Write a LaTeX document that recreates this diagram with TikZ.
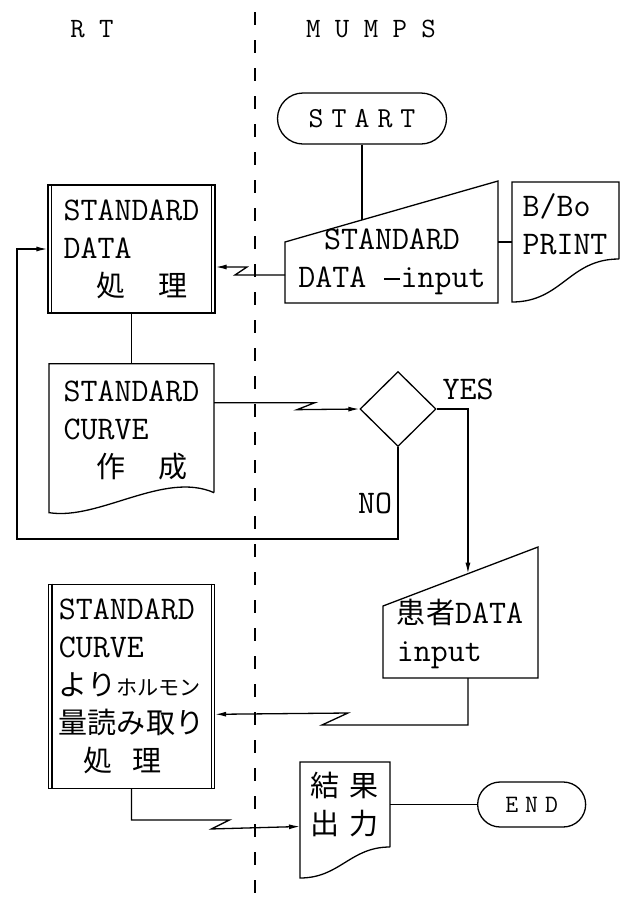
\documentclass[tikz,border=0pt]{standalone}
\usepackage{fontspec}
\newfontfamily\cjk[Scale=0.88]{Noto Sans CJK JP}
\usetikzlibrary{arrows.meta, positioning, calc, shapes.geometric, shapes.misc}

\newcommand\jp[1]{{\cjk #1}}
\newcommand\longdash{\makebox[0.525em]{\rule[0.24em]{0.48em}{1.3pt}}}
% double side lines of a process box
\newcommand\dblsides[1]{%
  \draw ([xshift=4pt]#1.north west) -- ([xshift=4pt]#1.south west);
  \draw ([xshift=-4pt]#1.north east) -- ([xshift=-4pt]#1.south east);}

\begin{document}
\begin{tikzpicture}[x=1pt, y=-1pt, line width=1.3pt, >={Latex[length=11pt,width=5pt]},
  boxfont/.style={font=\fontsize{33}{38}\selectfont\ttfamily},
  head/.style={font=\fontsize{28}{30}\selectfont\ttfamily},
  term/.style={draw, rounded rectangle, inner sep=0pt,
               font=\fontsize{29}{32}\selectfont\ttfamily},
  proc/.style={draw, boxfont, align=left, inner sep=0pt},
  shapebox/.style={inner sep=0pt, outer sep=0pt},
  txt/.style={boxfont, align=left, inner sep=0pt}]
  \useasboundingbox (0,0) rectangle (620,903);

  % Lanes
  \node[head] (rt) at (92,29) {R T};
  \node[head] (mumps) at (371,29) {M U M P S};
  \coordinate (divtop) at (255,12);
  \coordinate (divbot) at (255,903);
  \draw[dash pattern=on 13pt off 15pt] (divtop) -- (divbot);

  % MUMPS side
  \node[term, minimum width=169pt, minimum height=51pt] (start) at (362,118.5) {S\;T\;A\;R\;T};
  \node[shapebox, minimum width=213pt, minimum height=122pt] (stdin) at (391.5,242) {};
  \draw (stdin.south west) -- (stdin.south east) -- (stdin.north east)
    -- ($(stdin.south west)+(0,-61)$) -- cycle;
  \node[txt, align=center] (stdintext) at (392,262) {STANDARD\\DATA \longdash input};
  \node[shapebox, minimum width=107pt, minimum height=120pt, right=14pt of stdin] (prt) {};
  \draw ($(prt.south east)+(0,-43)$) -- (prt.north east) -- (prt.north west) -- (prt.south west)
    .. controls +(50,0) and +(-50,0) .. ($(prt.south east)+(0,-43)$);
  \node[txt] (prttext) at (565,224) {B/Bo\\PRINT};

  \node[draw, diamond, minimum width=76pt, minimum height=75pt, inner sep=0pt] (dec) at (398,409) {};
  \node[boxfont, inner sep=0pt] (yeslbl) at (468,389) {YES};
  \node[boxfont, inner sep=0pt] (nolbl) at (375,503) {NO};

  \node[shapebox, minimum width=155pt, minimum height=131pt] (pat) at (460.5,612.5) {};
  \draw (pat.south west) -- (pat.south east) -- (pat.north east)
    -- ($(pat.south west)+(0,-72)$) -- cycle;
  \node[txt] (pattext) at (460,634) {\jp{患者}DATA\\input};

  % RT side
  \node[proc, minimum width=167pt, minimum height=128pt] (data) at (131.5,249)
    {STANDARD\\DATA\\\quad\jp{処}\quad\jp{理}};
  \dblsides{data}
  \node[shapebox, boxfont, align=left, minimum width=165pt, minimum height=134pt,
        below=50pt of data] (curve) {STANDARD\\CURVE\\\quad\jp{作}\quad\jp{成}};
  \draw ($(curve.south east)+(0,-5)$) -- (curve.north east) -- (curve.north west)
    -- ($(curve.south west)+(0,15)$) .. controls +(50,8) and +(-50,-22) .. ($(curve.south east)+(0,-5)$);
  \node[proc, minimum width=166pt, minimum height=204pt, below=86pt of curve] (horm)
    {STANDARD\\CURVE\\\jp{より}{\fontsize{24}{38}\selectfont\jp{ホルモン}}\\\jp{量読み取り}\\
     \hspace*{0.75em}\jp{処}\hspace{0.6em}\jp{理}};
  \dblsides{horm}

  % Output
  \node[shapebox, boxfont, align=left, minimum width=90pt, minimum height=85pt] (res) at (345,804.5)
    {\jp{結}\hspace{10pt}\jp{果}\\\jp{出}\hspace{10pt}\jp{力}};
  \draw (res.south east) -- (res.north east) -- (res.north west)
    -- ($(res.south west)+(0,31)$) .. controls +(40,0) and +(-40,0) .. (res.south east);
  \node[term, minimum width=108pt, minimum height=45pt, right=87pt of res,
        font=\fontsize{25}{28}\selectfont\ttfamily] (stop) {E\;N\;D};

  % Connectors
  \coordinate (stdintl) at ($(stdin.south west)+(0,-61)$);
  \coordinate (stdintop) at ($(stdintl)!0.362!(stdin.north east)$);
  \coordinate (pattl) at ($(pat.south west)+(0,-72)$);
  \coordinate (pattop) at ($(pattl)!0.548!(pat.north east)$);
  \coordinate (loopcorner) at (17,539);

  \draw (start.south) -- (start.south |- stdintop);
  \draw (stdin.east) -- (prt.west);
  \draw[->] ($(stdin.south west)+(0,-28)$) -- ++(-50,0) -- ++(12,-8) -- ($(data.east)+(0,18)$);
  \draw (data.south) -- (curve.north);
  \draw[->] ($(curve.east)+(0,-28)$) -- ++(101,0) -- ++(-18,7) -- (dec.west);
  \draw[->] (dec.east) -| (pattop);
  \draw[->] (dec.south) |- (loopcorner) |- (data.west);
  \draw[->] (pattop |- pat.south) |- ++(-146,47) -- ++(26,-12) -- ($(horm.east)+(0,28)$);
  \draw[->] (horm.south) |- ++(98,31) -- ++(-18,9) -- ($(res.west)+(0,22)$);
  \draw (res.east) -- (stop.west);
\end{tikzpicture}
\end{document}
